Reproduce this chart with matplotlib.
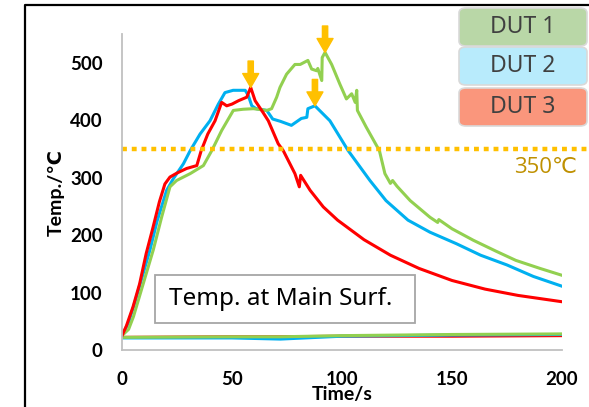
import numpy as np
import matplotlib
matplotlib.use("Agg")
import matplotlib.pyplot as plt
from matplotlib.patches import FancyBboxPatch, Rectangle
from matplotlib.lines import Line2D

# DUT 3 (red) heating run
t_red = [0, 2, 5, 8, 11, 14, 17, 19.5, 21.8, 25, 29.4, 34, 36, 39, 42.3, 45.3, 47.6, 50, 53, 56.7,
         58.5, 60.5, 64, 66.5, 71, 73.3, 78.6, 80.6, 81.2, 85.5, 91.5, 98, 110, 122, 135, 150, 165,
         180, 200]
T_red = [25, 42, 75, 115, 168, 212, 258, 289, 301, 308, 316, 321, 347, 376, 399, 431, 425, 428, 434,
         440, 457, 434, 414, 399, 359, 347, 307, 284, 304, 278, 249, 226, 192, 165, 142, 121, 106,
         95, 84]

# DUT 2 (blue)
t_blue = [0, 3, 6, 9, 12.7, 16, 20.3, 23.3, 27.9, 31, 35.5, 40, 43.8, 46.8, 50.5, 56, 57.4, 59, 61,
          65.8, 68.5, 72, 77, 81.5, 84, 84.5, 87.7, 94.5, 102.8, 112.7, 120, 130, 140, 152, 163, 175,
          187, 200]
T_blue = [25, 48, 85, 125, 174, 225, 278, 298, 324, 347, 376, 399, 428, 448, 452, 452, 443, 425,
          420, 417, 402, 398, 391, 403, 405, 420, 425, 399, 347, 295, 260, 226, 205, 185, 165, 148,
          128, 111]

# DUT 1 (green)
t_green = [0, 3, 5.2, 9.7, 14.2, 18, 21.8, 24.8, 31, 37, 40.8, 45.3, 50.6, 55, 59.7, 65.8, 68, 70.3,
           71.8, 74.8, 78.6, 81, 84.5, 86.2, 88.5, 89, 90.8, 91, 92.3, 95.3, 99, 102, 104.4, 106,
           106.7, 107, 111, 117, 119.5, 122, 123, 125, 131, 140, 143.5, 144, 150, 159.7, 170, 179,
           190, 200]
T_green = [25, 36, 58, 116, 174, 231, 284, 295, 307, 321, 347, 382, 417, 419, 420, 417, 420, 440,
           457, 480, 497, 497, 504, 489, 486, 490, 469, 509, 518, 497, 463, 437, 446, 431, 452, 417,
           388, 347, 307, 290, 295, 285, 260, 231, 222, 227, 211, 191, 172, 156, 142, 130]

# ambient channels
t_base = [0, 50, 72, 100, 150, 200]
base_red = [22, 23, 23, 24, 24, 25]
base_blue = [21, 21, 19, 24, 26, 27]
base_green = [22, 23, 23, 25, 27, 28]

limit_temp = 350
legend_names = ["DUT 1", "DUT 2", "DUT 3"]
legend_colors = ["#b9d7a7", "#b8ebfc", "#fa967c"]

fig = plt.figure(figsize=(5.89, 4.07), dpi=100)
ax = fig.add_axes([122 / 589, 57 / 407, 440 / 589, 316 / 407])

ax.plot(t_base, base_red, color="#ff0000", lw=2.2)
ax.plot(t_base, base_blue, color="#00b0f0", lw=2.2)
ax.plot(t_base, base_green, color="#92d050", lw=2.2)
ax.plot(t_blue, T_blue, color="#00b0f0", lw=2.2)
ax.plot(t_green, T_green, color="#92d050", lw=2.2)
ax.plot(t_red, T_red, color="#ff0000", lw=2.2)

ax.axhline(limit_temp, xmin=0, xmax=(589 - 122) / 440, color="#ffc000", lw=3.2,
           dashes=(1.1, 1.1), dash_capstyle="butt", clip_on=False)
ax.text(1.035, 317, "350℃", transform=ax.get_yaxis_transform(), ha="right", va="center",
        fontsize=16, color="#bf9000", family=["Open Sans", "DejaVu Sans"])

# arrows at the peaks (peak searched inside a time window)
for tt, TT, (lo, hi) in [(t_red, T_red, (40, 70)), (t_green, T_green, (80, 100)),
                         (t_blue, T_blue, (80, 100))]:
    tt = np.array(tt)
    TT = np.array(TT)
    m = (tt >= lo) & (tt <= hi)
    i = np.argmax(np.where(m, TT, -1))
    ax.annotate("", xy=(tt[i], TT[i]), xytext=(0, 19), textcoords="offset points",
                arrowprops=dict(arrowstyle="simple,head_length=1.0,head_width=1.15,tail_width=0.38",
                                color="#ffc000", shrinkA=0, shrinkB=0, mutation_scale=10))

ax.set_xlim(0, 200)
ax.set_ylim(0, 550)
ax.set_xticks([0, 50, 100, 150, 200])
ax.set_yticks([0, 100, 200, 300, 400, 500])
for s in ["top", "right"]:
    ax.spines[s].set_visible(False)
for s in ["left", "bottom"]:
    ax.spines[s].set_color("#c0c0c0")
    ax.spines[s].set_linewidth(1.3)
ax.tick_params(length=0)
ax.tick_params(axis="y", pad=14)
ax.tick_params(axis="x", pad=15)
for lab in ax.get_xticklabels() + ax.get_yticklabels():
    lab.set_fontfamily("Lato")
    lab.set_fontweight("bold")
    lab.set_fontsize(13.5)
ax.set_xlabel("Time/s", fontsize=14, fontweight="bold", family="Lato", labelpad=-1)
ax.set_ylabel("Temp./℃", fontsize=14, fontweight="bold", family=["Lato", "DejaVu Sans"], labelpad=4)

# inner title box
bx0, by0, bw, bh = (155 - 122) / 440, (350 - 323) / 316, 260 / 440, 48 / 316
ax.add_patch(Rectangle((bx0, by0), bw, bh, transform=ax.transAxes, fill=False,
                       edgecolor="#a6a6a6", lw=1.3))
ax.text(bx0 + bw / 2 - 0.01, by0 + bh / 2, "Temp. at Main Surf.", transform=ax.transAxes,
        ha="center", va="center", fontsize=17.5, family="Noto Sans", color="black")

# legend boxes
W, H = 589, 407
tops = [8, 47, 88]
for name, col, top in zip(legend_names, legend_colors, tops):
    x0, x1 = 459, 587
    y1 = top
    y0 = top + 38
    box = FancyBboxPatch((x0 / W, 1 - y0 / H), (x1 - x0) / W, (y0 - y1) / H,
                         boxstyle="round,pad=0,rounding_size=0.012", transform=fig.transFigure,
                         facecolor=col, edgecolor="#d9d9d9", lw=1.2)
    fig.add_artist(box)
    fig.text((x0 + x1) / 2 / W, 1 - (y0 + y1) / 2 / H, name, ha="center", va="center",
             fontsize=16.5, color="#404040", family="Noto Sans")

# outer black frame (right and bottom are off-image)
fig.add_artist(Line2D([25 / W, 25 / W, 1], [0, 1 - 5 / H, 1 - 5 / H], color="black", lw=1.6,
                      transform=fig.transFigure))

fig.savefig("out.png", dpi=100)
